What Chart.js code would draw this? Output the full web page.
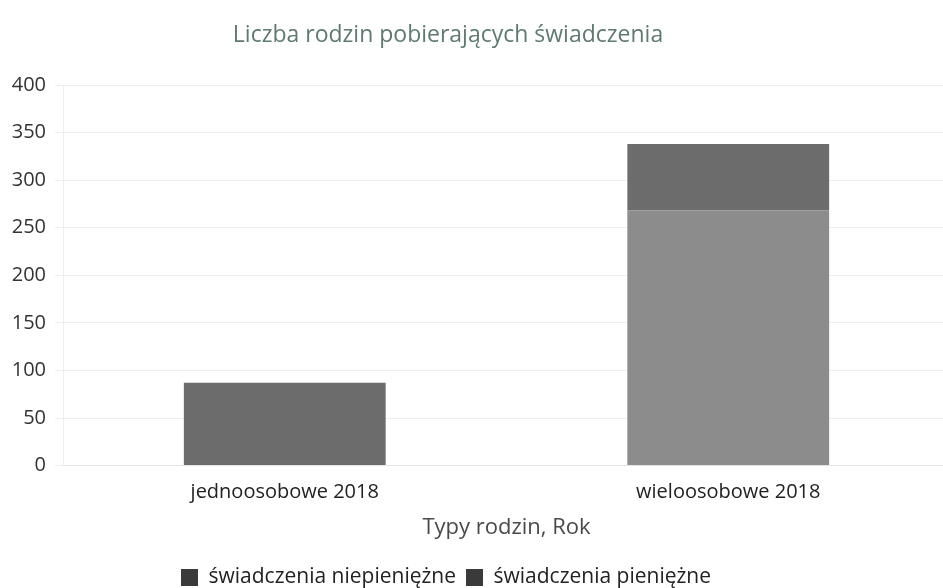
<!DOCTYPE html>
<html>
<head>
<meta charset="utf-8">
<script src="https://cdn.jsdelivr.net/npm/chart.js@4"></script>
<style>
  body { margin: 0; background: #fff; overflow: hidden; }
  #wrap { width: 950px; height: 588px; position: relative; }
</style>
</head>
<body>
<div id="wrap"><canvas id="chart"></canvas></div>
<script>
// Data
const categories = ['jednoosobowe 2018', 'wieloosobowe 2018'];
const niepieniezne = [0, 268];
const pieniezne = [87, 70];
const yTicks = [0, 50, 100, 150, 200, 250, 300, 350, 400];
const chartTitle = 'Liczba rodzin pobierających świadczenia';

// title drawn by hand so it sits where the original one does,
// and the legend nudged the same way
const placementPlugin = {
    id: 'placement',
    afterLayout(chart) {
        const lg = chart.legend;
        lg.left -= 31;
        lg.right -= 31;
        lg.top += 10;
        lg.bottom += 10;
    },
    afterDraw(chart) {
        const c = chart.ctx;
        c.save();
        c.font = '23px "Open Sans"';
        c.fillStyle = '#5f7a6e';
        c.textAlign = 'center';
        c.textBaseline = 'middle';
        c.fillText(chartTitle, 448, 35);
        c.restore();
    }
};

const ctx = document.getElementById('chart').getContext('2d');
new Chart(ctx, {
    type: 'bar',
    data: {
        labels: categories,
        datasets: [{
            label: 'świadczenia niepieniężne',
            data: niepieniezne,
            backgroundColor: '#8c8c8c',
            legendColor: '#3a3a3a'
        }, {
            label: 'świadczenia pieniężne',
            data: pieniezne,
            backgroundColor: '#6c6c6c',
            legendColor: '#3a3a3a'
        }]
    },
    plugins: [placementPlugin],
    options: {
        responsive: true,
        maintainAspectRatio: false,
        animation: false,
        layout: { padding: { left: 4, right: 0, top: 85, bottom: 0 } },
        datasets: {
            bar: { barPercentage: 0.455, categoryPercentage: 1 }
        },
        scales: {
            x: {
                stacked: true,
                grid: { display: false },
                border: { color: '#e4e4e4' },
                ticks: { color: '#222', font: { family: 'Open Sans', size: 20 }, padding: 7 },
                title: {
                    display: true,
                    text: 'Typy rodzin, Rok',
                    color: '#4a4a4a',
                    font: { family: 'Open Sans', size: 22 },
                    padding: { top: 3, bottom: 6 }
                }
            },
            y: {
                stacked: true,
                min: 0,
                max: 400,
                afterBuildTicks: axis => {
                    axis.ticks = yTicks.map(v => ({ value: v }));
                },
                afterFit: axis => { axis.width = 59; },
                grid: { color: '#eeeeee' },
                border: { color: '#eeeeee' },
                ticks: { color: '#333', font: { family: 'Open Sans', size: 20 }, padding: 9 }
            }
        },
        plugins: {
            title: { display: false },
            legend: {
                position: 'bottom',
                labels: {
                    color: '#222',
                    font: { family: 'Open Sans', size: 21 },
                    boxWidth: 17,
                    boxHeight: 17,
                    padding: 10,
                    generateLabels: chart => chart.data.datasets.map((ds, i) => ({
                        text: ds.label,
                        fillStyle: ds.legendColor,
                        strokeStyle: ds.legendColor,
                        lineWidth: 0,
                        fontColor: '#222',
                        datasetIndex: i
                    }))
                }
            },
            tooltip: { enabled: false }
        }
    }
});
</script>
</body>
</html>
